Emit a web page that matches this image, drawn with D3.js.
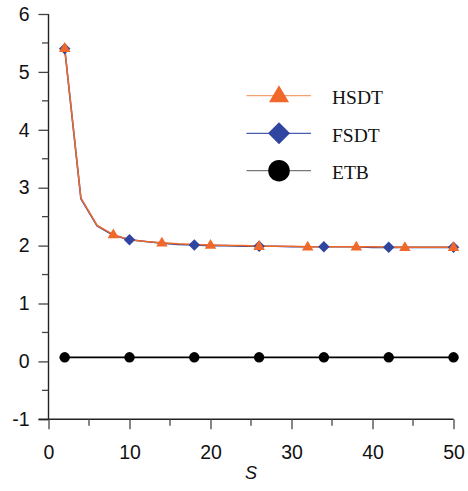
<!DOCTYPE html>
<html>
<head>
<meta charset="utf-8">
<script src="https://cdn.jsdelivr.net/npm/d3@7"></script>
<style>
  html, body { margin: 0; padding: 0; background: #fff; }
  svg { display: block; }
</style>
</head>
<body>
<svg id="chart" width="468" height="491"></svg>
<script>
// Span-to-depth ratio S
const sValues = [2, 4, 6, 8, 10, 12, 14, 16, 18, 20, 22, 24, 26, 28, 30, 32, 34, 36, 38, 40, 42, 44, 46, 48, 50];
// Normalised deflection for each theory
const hsdtValues = [5.41, 2.82, 2.35, 2.19, 2.10, 2.07, 2.05, 2.03, 2.02, 2.01, 2.00, 2.00, 1.99, 1.99, 1.99, 1.98, 1.98, 1.98, 1.98, 1.98, 1.97, 1.97, 1.97, 1.97, 1.97];
const fsdtValues = [5.40, 2.81, 2.34, 2.18, 2.10, 2.07, 2.04, 2.02, 2.01, 2.00, 2.00, 1.99, 1.99, 1.99, 1.98, 1.98, 1.98, 1.98, 1.98, 1.97, 1.97, 1.97, 1.97, 1.97, 1.97];
const etbValues  = [0.07, 0.07, 0.07, 0.07, 0.07, 0.07, 0.07, 0.07, 0.07, 0.07, 0.07, 0.07, 0.07, 0.07, 0.07, 0.07, 0.07, 0.07, 0.07, 0.07, 0.07, 0.07, 0.07, 0.07, 0.07];
// Which S values carry a marker
const hsdtMarkerS = [2, 8, 14, 20, 26, 32, 38, 44, 50];
const fsdtMarkerS = [2, 10, 18, 26, 34, 42, 50];
const etbMarkerS  = [2, 10, 18, 26, 34, 42, 50];
const xTicks = [0, 10, 20, 30, 40, 50];
const yTicks = [-1, 0, 1, 2, 3, 4, 5, 6];
const seriesNames = ["HSDT", "FSDT", "ETB"];

const ORANGE = "#f0682a", BLUE = "#2f45a0", BLACK = "#000";

const svg = d3.select("#chart");
const x = d3.scaleLinear().domain([0, 50]).range([48.5, 453.5]);
const y = d3.scaleLinear().domain([-1, 6]).range([419.3, 14]);

const axisFont = "'Liberation Sans', Arial, sans-serif";
const plainInt = d => String(d);   // keeps the ASCII hyphen in "-1"

// y axis: major ticks + half-step minor ticks
const yAxis = svg.append("g").attr("transform", `translate(${x(0)},0)`);
yAxis.call(d3.axisLeft(y).tickValues(yTicks).tickSize(10).tickPadding(9).tickFormat(plainInt));
yAxis.append("g").selectAll("line")
  .data(d3.range(-0.5, 6, 1))
  .join("line")
  .attr("x1", -6.5).attr("x2", 0)
  .attr("y1", d => y(d)).attr("y2", d => y(d));
yAxis.select(".domain").attr("d", `M0,${y(6)}V${y(-1)}`);

// x axis: major ticks + minor ticks at the fives
const xAxis = svg.append("g").attr("transform", `translate(0,${y(-1)})`);
xAxis.call(d3.axisBottom(x).tickValues(xTicks).tickSize(10).tickPadding(16).tickFormat(plainInt));
xAxis.append("g").selectAll("line")
  .data([5, 15, 25, 35, 45])
  .join("line")
  .attr("x1", d => x(d)).attr("x2", d => x(d))
  .attr("y1", 0).attr("y2", 6.5);
xAxis.select(".domain").attr("d", `M${x(0) - 10},0H${x(50)}`);

[yAxis, xAxis].forEach(g => {
  g.selectAll("text").attr("font-family", axisFont).attr("font-size", 19.5).attr("fill", "#111");
  g.selectAll("line").attr("stroke", "#444").attr("stroke-width", 1.3);
  g.select(".domain").attr("stroke", "#222").attr("stroke-width", 1.4);
});

svg.append("text")
  .attr("x", x(25)).attr("y", 479)
  .attr("text-anchor", "middle")
  .attr("font-family", axisFont).attr("font-style", "italic").attr("font-size", 18)
  .attr("fill", "#111")
  .text("S");

function drawMarker(g, type, cx, cy, size, color) {
  if (type === "tri") {
    const h = size * 0.85, w = size;
    g.append("path")
      .attr("d", `M${cx},${cy - h * 0.62}L${cx + w / 2},${cy + h * 0.38}L${cx - w / 2},${cy + h * 0.38}Z`)
      .attr("fill", color);
  } else if (type === "dia") {
    const r = size / 2;
    g.append("path")
      .attr("d", `M${cx},${cy - r}L${cx + r},${cy}L${cx},${cy + r}L${cx - r},${cy}Z`)
      .attr("fill", color);
  } else {
    g.append("circle").attr("cx", cx).attr("cy", cy).attr("r", size / 2).attr("fill", color);
  }
}

const line = d3.line().x(d => x(d[0])).y(d => y(d[1]));
const plot = svg.append("g");

const series = [
  { name: seriesNames[2], vals: etbValues, marks: etbMarkerS, color: BLACK, type: "circ", size: 10.5, lw: 1.6 },
  { name: seriesNames[1], vals: fsdtValues, marks: fsdtMarkerS, color: BLUE, type: "dia", size: 11.5, lw: 1.6 },
  { name: seriesNames[0], vals: hsdtValues, marks: hsdtMarkerS, color: ORANGE, type: "tri", size: 11.5, lw: 1.5 }
];

// lines first, then markers (FSDT markers, then HSDT markers on top)
series.forEach(s => {
  plot.append("path")
    .datum(sValues.map((v, i) => [v, s.vals[i]]))
    .attr("d", line)
    .attr("fill", "none")
    .attr("stroke", s.color)
    .attr("stroke-width", s.lw);
});
series.forEach(s => {
  s.marks.forEach(m => {
    const i = sValues.indexOf(m);
    drawMarker(plot, s.type, x(m), y(s.vals[i]), s.size, s.color);
  });
});

// Legend
const legend = svg.append("g");
const legendItems = [
  { name: seriesNames[0], color: ORANGE, lineColor: "#f4a070", type: "tri", size: 20, y: 95.7 },
  { name: seriesNames[1], color: BLUE, lineColor: "#4a5cb0", type: "dia", size: 22, y: 133.3 },
  { name: seriesNames[2], color: BLACK, lineColor: "#777", type: "circ", size: 21.5, y: 170.7 }
];
legendItems.forEach(it => {
  legend.append("line")
    .attr("x1", 246.5).attr("x2", 311)
    .attr("y1", it.y).attr("y2", it.y)
    .attr("stroke", it.lineColor).attr("stroke-width", 1.2);
  drawMarker(legend, it.type, 279, it.y, it.size, it.color);
  legend.append("text")
    .attr("x", 332).attr("y", it.y + 8.3)
    .attr("font-family", "'Liberation Serif', 'Times New Roman', serif")
    .attr("font-size", 19.5)
    .attr("fill", "#111")
    .text(it.name);
});
</script>
</body>
</html>
